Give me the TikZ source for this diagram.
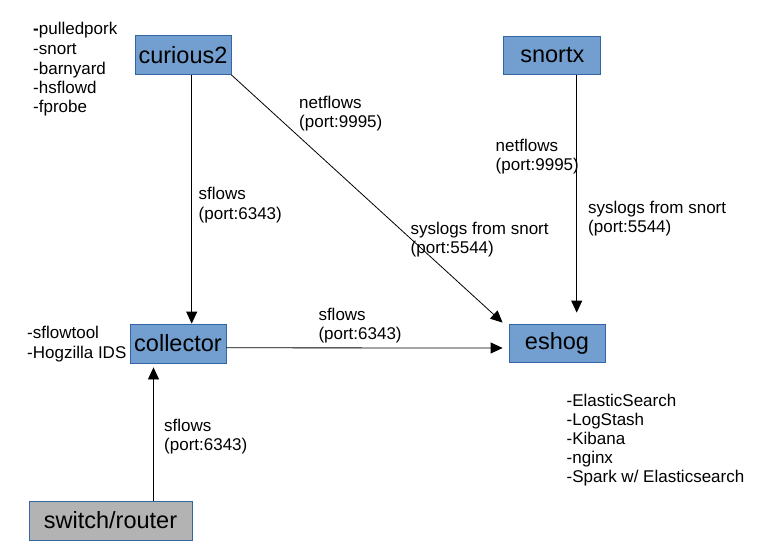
\documentclass[tikz,border=0pt]{standalone}
\usepackage{fontspec}
\setmainfont{Liberation Sans}
\usetikzlibrary{arrows.meta,calc}
\definecolor{boxblue}{HTML}{729FCF}
\definecolor{boxedge}{HTML}{3465A4}
\definecolor{boxgray}{HTML}{B3B3B3}
\tikzset{
  box/.style={draw=boxedge, line width=0.8pt, fill=boxblue, inner sep=0pt,
    font=\fontsize{23.5}{28}\selectfont, text=black},
  graybox/.style={box, fill=boxgray},
  lbl/.style={anchor=base west, inner sep=0pt, font=\fontsize{17}{19.5}\selectfont},
  arr/.style={draw=black, line width=0.8pt, -{Triangle[length=12pt,width=11pt]}}
}
\begin{document}
\begin{tikzpicture}[x=1pt,y=-1pt]
\useasboundingbox (0,0) rectangle (768,556);
% boxes
\node[box, minimum width=96pt, minimum height=39pt] (curious) at (183,55) {curious2};
\node[box, minimum width=97pt, minimum height=38pt] (snortx) at (552.3,55.2) {snortx};
\node[box, minimum width=96pt, minimum height=39pt] (collector) at (178,343.5) {collector};
\node[box, minimum width=96pt, minimum height=38pt] (eshog) at (557,343) {eshog};
\node[graybox, minimum width=163pt, minimum height=39pt] (sw) at (110.5,520.5) {switch/router};
% connectors
\draw[arr] ([xshift=8.7pt]curious.south) -- ([xshift=8.7pt]curious.south |- collector.north);
\draw[arr] (curious.south east) -- ([xshift=-6pt,yshift=1pt]eshog.north west);
\draw[arr, shorten >=11pt] ([xshift=24.4pt]snortx.south) -- ([xshift=24.4pt]snortx.south |- eshog.north);
\draw[arr] ([yshift=-4.3pt]collector.east) -- ([xshift=-6pt,yshift=-5pt]eshog.west);
\draw[arr, shorten >=4pt] ([xshift=43pt]sw.north) -- ([xshift=43pt]sw.north |- collector.south);
% curious2 list
\node[lbl] (l1) at (33,34.3) {{\bfseries -}pulledpork};
\node[lbl] (l2) at (33,55) {-snort};
\node[lbl] (l3) at (33,74.5) {-barnyard};
\node[lbl] (l4) at (33,94) {-hsflowd};
\node[lbl] (l5) at (33,113) {-fprobe};
% collector list
\node[lbl] (c1) at (27,338.3) {-sflowtool};
\node[lbl] (c2) at (27,358) {-Hogzilla IDS};
% eshog list
\node[lbl] (e1) at (566.5,406) {-ElasticSearch};
\node[lbl] (e2) at (566.5,425.2) {-LogStash};
\node[lbl] (e3) at (566.5,444.4) {-Kibana};
\node[lbl] (e4) at (566.5,463.6) {-nginx};
\node[lbl] (e5) at (566.5,482.8) {-Spark w/ Elasticsearch};
% connector labels
\node[lbl] (nfa) at (299,109) {netflows};
\node[lbl] (nfb) at (299,128) {(port:9995)};
\node[lbl] (sfa) at (198.5,200) {sflows};
\node[lbl] (sfb) at (198.5,219) {(port:6343)};
\node[lbl] (sya) at (410.5,234.3) {syslogs from snort};
\node[lbl] (syb) at (410.5,253.5) {(port:5544)};
\node[lbl] (nra) at (495.5,152) {netflows};
\node[lbl] (nrb) at (495.5,171) {(port:9995)};
\node[lbl] (sra) at (588,213.5) {syslogs from snort};
\node[lbl] (srb) at (588,233) {(port:5544)};
\node[lbl] (sma) at (318.3,320) {sflows};
\node[lbl] (smb) at (318.3,339) {(port:6343)};
\node[lbl] (sba) at (164,431.7) {sflows};
\node[lbl] (sbb) at (164,450.7) {(port:6343)};
\end{tikzpicture}
\end{document}
